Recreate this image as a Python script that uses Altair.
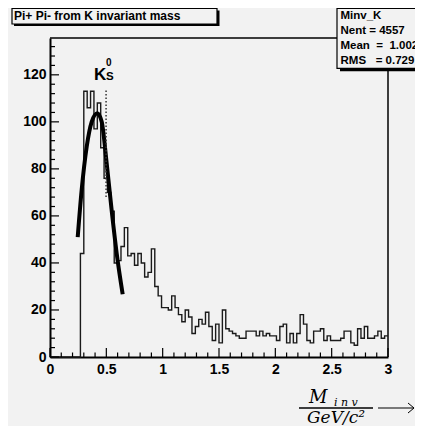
import altair as alt
import pandas as pd
import numpy as np

# ---------------- data ----------------
bin_lo = 0.27
bin_w = 0.03
counts = [44, 113, 106, 113, 97, 108, 89, 76, 70, 62,
          40, 41, 47, 55, 43, 44, 39, 44, 40, 34,
          36, 46, 30, 26, 21, 21, 20, 26, 21, 18,
          15, 20, 17, 10, 13, 16, 14, 19, 13, 7,
          14, 6, 20, 12, 11, 10, 9, 8, 8, 11,
          11, 11, 9, 11, 9, 10, 9, 9, 7, 13,
          14, 6, 10, 6, 10, 18, 14, 7, 6, 11,
          11, 12, 7, 9, 7, 7, 7, 8, 11, 11,
          6, 5, 12, 8, 13, 8, 8, 9, 11, 8,
          9]
fit_x = [0.246, 0.281, 0.326, 0.370, 0.420, 0.459, 0.503, 0.547, 0.592, 0.645]
fit_y = [51.0, 71.0, 89.5, 100.0, 103.7, 100.0, 82.4, 62.5, 44.0, 26.7]
k0_mass = [0.4977]
k0_lo = [68]
k0_hi = [114]
x_ticks = [0, 0.5, 1, 1.5, 2, 2.5, 3]
y_ticks = [0, 20, 40, 60, 80, 100, 120]
x_minor = [round(0.1 * i, 1) for i in range(31) if i % 5]
y_minor = [4 * i for i in range(34) if i % 5]
title_text = "Pi+ Pi- from K invariant mass"
stats_lines = ["Minv_K", "Nent = 4557",
               "Mean\u00a0\u00a0=\u00a0\u00a01.002",
               "RMS\u00a0\u00a0\u00a0=\u00a00.729"]

# ---------------- tables ----------------
edges = list(np.round(bin_lo + bin_w * np.arange(len(counts)), 2))
hist_df = pd.DataFrame({"x": [0.0] + edges + [3.0],
                        "y": [0] + counts + [counts[-1]]})
fit_df = pd.DataFrame({"x": fit_x, "y": fit_y})
k0_df = pd.DataFrame({"x": k0_mass, "y": k0_lo, "y2": k0_hi})
xmaj_df = pd.DataFrame({"x": x_ticks})
xmin_df = pd.DataFrame({"x": x_minor})
ymaj_df = pd.DataFrame({"y": y_ticks})
ymin_df = pd.DataFrame({"y": y_minor})

W, H = 338, 319
FONT = "Liberation Sans"
BG = "#f2f2f2"

xs = alt.Scale(domain=[0, 3], nice=False, zero=False)
ys = alt.Scale(domain=[0, 135.66], nice=False, zero=False)
xaxis = alt.Axis(values=x_ticks, format=".1~f", ticks=False, tickSize=0, grid=False,
                 domainColor="black", domainWidth=2, labelFont=FONT, labelFontSize=14,
                 labelFontWeight="bold", labelColor="black", labelPadding=5,
                 labelFlush=False, labelOverlap=False, title=None)
yaxis = alt.Axis(values=y_ticks, format="d", ticks=False, tickSize=0, grid=False,
                 domainColor="black", domainWidth=2, labelFont=FONT, labelFontSize=14,
                 labelFontWeight="bold", labelColor="black", labelPadding=4,
                 labelFlush=False, labelOverlap=False, title=None)
X = alt.X("x:Q", scale=xs, axis=xaxis)
Y = alt.Y("y:Q", scale=ys, axis=yaxis)

# frame (top / right)
frame_top = alt.Chart().mark_rule(color="black", strokeWidth=1.5).encode(
    x=alt.value(0), x2=alt.value(W), y=alt.value(0))
frame_right = alt.Chart().mark_rule(color="black", strokeWidth=1.5).encode(
    x=alt.value(W), y=alt.value(0), y2=alt.value(H))

hist = alt.Chart(hist_df).mark_line(interpolate="step-after", color="#1a1a1a",
                                    strokeWidth=1.4).encode(x=X, y=Y)
fit = alt.Chart(fit_df).mark_line(interpolate="monotone", color="black",
                                  strokeWidth=4).encode(x=X, y=Y)
k0 = alt.Chart(k0_df).mark_rule(color="#333", strokeWidth=1.5,
                                strokeDash=[1.5, 2]).encode(x=X, y=Y, y2="y2:Q")

xmaj = alt.Chart(xmaj_df).mark_rule(color="black", strokeWidth=1.2).encode(
    x=X, y=alt.value(H), y2=alt.value(H - 9))
xmin = alt.Chart(xmin_df).mark_rule(color="black", strokeWidth=1.2).encode(
    x=X, y=alt.value(H), y2=alt.value(H - 4.5))
ymaj = alt.Chart(ymaj_df).mark_rule(color="black", strokeWidth=1.2).encode(
    y=Y, x=alt.value(0), x2=alt.value(9))
ymin = alt.Chart(ymin_df).mark_rule(color="black", strokeWidth=1.2).encode(
    y=Y, x=alt.value(0), x2=alt.value(5))

# K_S^0 label
k_main = alt.Chart().mark_text(align="left", baseline="alphabetic", font=FONT,
                               fontSize=17, fontWeight="bold", color="black").encode(
    x=alt.value(44), y=alt.value(42), text=alt.value("K"))
k_sup = alt.Chart().mark_text(align="left", baseline="alphabetic", font=FONT,
                              fontSize=10, fontWeight="bold", color="black").encode(
    x=alt.value(56), y=alt.value(27.5), text=alt.value("0"))
k_sub = alt.Chart().mark_text(align="left", baseline="alphabetic", font=FONT,
                              fontSize=11.5, fontWeight="bold", color="black").encode(
    x=alt.value(56), y=alt.value(42), text=alt.value("S"))

# title box
t_shadow = alt.Chart().mark_rect(fill="black").encode(
    x=alt.value(-36), x2=alt.value(169.5), y=alt.value(-27.5), y2=alt.value(-12))
t_box = alt.Chart().mark_rect(fill=BG, stroke="black", strokeWidth=1.2).encode(
    x=alt.value(-38), x2=alt.value(167), y=alt.value(-29.5), y2=alt.value(-14))
t_text = alt.Chart().mark_text(align="left", baseline="alphabetic", font=FONT,
                               fontSize=12, fontWeight="bold", color="black").encode(
    x=alt.value(-36), y=alt.value(-18), text=alt.value(title_text))

# stats box
s_shadow = alt.Chart().mark_rect(fill="black").encode(
    x=alt.value(290), x2=alt.value(400), y=alt.value(-27), y2=alt.value(33.3))
s_box = alt.Chart().mark_rect(fill=BG, stroke="black", strokeWidth=1.2).encode(
    x=alt.value(287), x2=alt.value(398), y=alt.value(-29.5), y2=alt.value(30.3))
s_texts = []
for line, yb in zip(stats_lines, [-18.7, -3.7, 11.3, 26.3]):
    s_texts.append(alt.Chart().mark_text(align="left", baseline="alphabetic", font=FONT,
                                         fontSize=11.5, fontWeight="bold",
                                         color="black").encode(
        x=alt.value(290.5), y=alt.value(yb), text=alt.value(line)))

# x title: M_inv / (GeV/c^2) -->
SERIF = "DejaVu Serif"
m_text = alt.Chart().mark_text(align="left", baseline="alphabetic", font=SERIF,
                               fontSize=18, fontStyle="italic", color="black").encode(
    x=alt.value(259), y=alt.value(365), text=alt.value("M"))
inv_text = alt.Chart().mark_text(align="left", baseline="alphabetic", font=SERIF,
                                 fontSize=11, fontStyle="italic", color="black").encode(
    x=alt.value(284), y=alt.value(368), text=alt.value("i n v"))
bar = alt.Chart().mark_rule(color="black", strokeWidth=1.5).encode(
    x=alt.value(249), x2=alt.value(323), y=alt.value(370))
gev_text = alt.Chart().mark_text(align="center", baseline="alphabetic", font=SERIF,
                                 fontSize=17, fontStyle="italic", color="black").encode(
    x=alt.value(286), y=alt.value(385), text=alt.value("GeV/c\u00b2"))
arrow_shaft = alt.Chart().mark_rule(color="black", strokeWidth=1).encode(
    x=alt.value(328), x2=alt.value(364), y=alt.value(370))
arrow_up = alt.Chart().mark_rule(color="black", strokeWidth=1).encode(
    x=alt.value(358), x2=alt.value(364), y=alt.value(365), y2=alt.value(370))
arrow_dn = alt.Chart().mark_rule(color="black", strokeWidth=1).encode(
    x=alt.value(358), x2=alt.value(364), y=alt.value(375), y2=alt.value(370))

chart = alt.layer(
    frame_top, frame_right, hist, fit, k0, xmaj, xmin, ymaj, ymin,
    k_main, k_sup, k_sub,
    t_shadow, t_box, t_text,
    s_shadow, s_box, *s_texts,
    m_text, inv_text, bar, gev_text, arrow_shaft, arrow_up, arrow_dn,
).properties(
    width=W, height=H,
    autosize=alt.AutoSizeParams(type="none"),
    padding={"left": 42, "top": 30, "right": 27, "bottom": 69},
    background=BG,
).configure_view(stroke=None)

chart.save("out.html", embed_options={"renderer": "svg", "actions": False})
